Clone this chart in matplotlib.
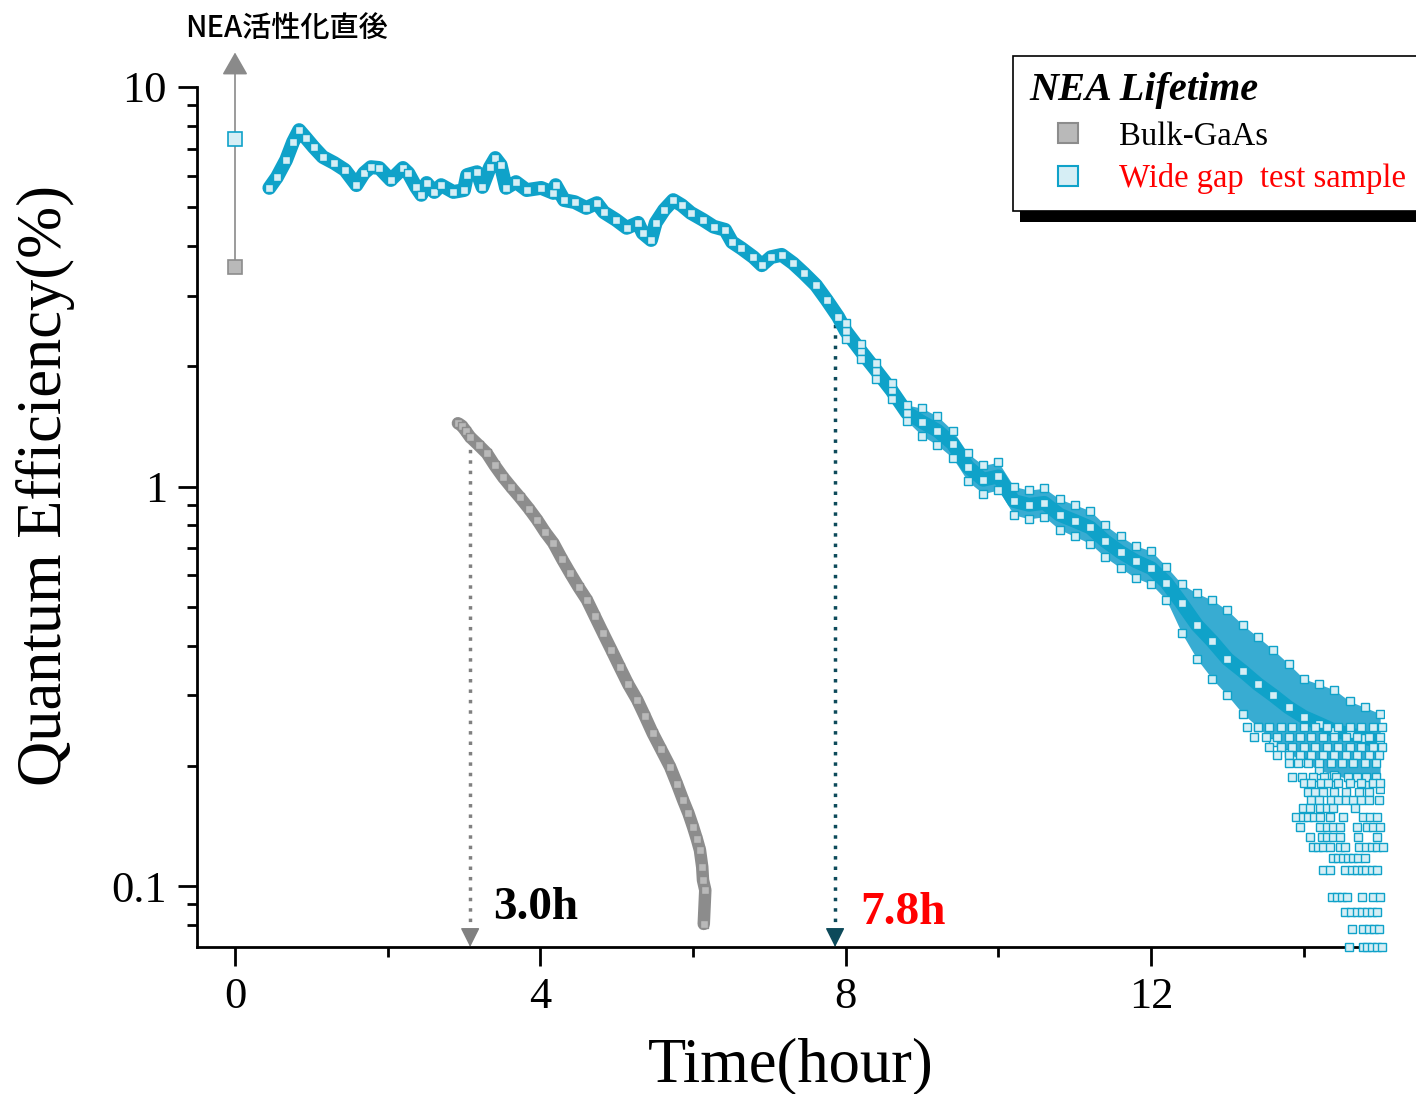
import matplotlib
matplotlib.use("Agg")
import matplotlib.pyplot as plt
from matplotlib.lines import Line2D
from matplotlib.patches import Rectangle
from matplotlib.transforms import IdentityTransform

plt.rcParams['font.family'] = ['Liberation Serif', 'DejaVu Serif']

# wide gap sample, main trace (hours, QE %)
wide_t = [0.45, 0.55, 0.67, 0.76, 0.84, 0.93, 1.03, 1.15, 1.30, 1.44, 1.59, 1.69, 1.78, 1.89,
          2.04, 2.20, 2.27, 2.37, 2.44, 2.51, 2.61, 2.70, 2.86, 3.00, 3.04, 3.17, 3.24, 3.34,
          3.41, 3.48, 3.55, 3.68, 3.82, 4.01, 4.17, 4.20, 4.31, 4.45, 4.60, 4.74, 4.83, 4.99,
          5.13, 5.28, 5.34, 5.45, 5.51, 5.62, 5.74, 5.85, 5.97, 6.13, 6.27, 6.42, 6.51, 6.63,
          6.79, 6.90, 7.02, 7.16, 7.31, 7.45, 7.61, 7.75, 7.90,
          8.0, 8.2, 8.4, 8.6, 8.8, 9.0, 9.2, 9.4, 9.6, 9.8, 10.0, 10.2, 10.4, 10.6, 10.8,
          11.0, 11.2, 11.4, 11.6, 11.8, 12.0, 12.2, 12.4, 12.6, 12.8, 13.0, 13.2, 13.4,
          13.6, 13.8, 14.0, 14.2, 14.4, 14.6, 14.8, 15.0]
wide_qe = [5.59, 5.95, 6.57, 7.28, 7.80, 7.45, 7.07, 6.68, 6.45, 6.20, 5.68, 6.09, 6.30, 6.27,
           5.85, 6.27, 6.09, 5.62, 5.37, 5.75, 5.46, 5.68, 5.46, 5.52, 6.02, 6.12, 5.62, 6.30,
           6.64, 6.38, 5.59, 5.78, 5.52, 5.59, 5.43, 5.68, 5.21, 5.15, 4.98, 5.12, 4.86, 4.65,
           4.44, 4.57, 4.31, 4.14, 4.57, 4.92, 5.21, 5.06, 4.84, 4.65, 4.47, 4.39, 4.09, 3.95,
           3.75, 3.58, 3.75, 3.80, 3.62, 3.42, 3.19, 2.93, 2.66,
           2.45, 2.18, 1.95, 1.74, 1.53, 1.45, 1.38, 1.28, 1.12, 1.04, 1.06, 0.92, 0.90, 0.91, 0.85,
           0.82, 0.79, 0.73, 0.685, 0.65, 0.625, 0.575, 0.51, 0.45, 0.41, 0.37, 0.345, 0.32,
           0.30, 0.28, 0.265, 0.255, 0.245, 0.24, 0.235, 0.23]

# upper / lower edges of the scattered band after 8 h
edge_t = [8.0, 8.2, 8.4, 8.6, 8.8, 9.0, 9.2, 9.4, 9.6, 9.8, 10.0, 10.2, 10.4, 10.6, 10.8,
          11.0, 11.2, 11.4, 11.6, 11.8, 12.0, 12.2, 12.4, 12.6, 12.8, 13.0, 13.2, 13.4,
          13.6, 13.8, 14.0, 14.2, 14.4, 14.6, 14.8, 15.0]
upper_qe = [2.56, 2.28, 2.04, 1.82, 1.60, 1.57, 1.50, 1.38, 1.21, 1.13, 1.15, 1.00, 0.98, 0.99, 0.93,
            0.90, 0.87, 0.80, 0.75, 0.71, 0.69, 0.63, 0.57, 0.54, 0.52, 0.49, 0.45, 0.42,
            0.39, 0.36, 0.33, 0.32, 0.31, 0.29, 0.28, 0.27]
lower_qe = [2.34, 2.08, 1.86, 1.66, 1.46, 1.34, 1.27, 1.18, 1.03, 0.96, 0.98, 0.85, 0.83, 0.84, 0.78,
            0.75, 0.72, 0.665, 0.625, 0.59, 0.57, 0.52, 0.43, 0.37, 0.33, 0.30, 0.27, 0.25,
            0.23, 0.215, 0.205, 0.195, 0.19, 0.185, 0.18, 0.175]

# low-signal tail: quantized rows of points
tail_levels = [0.250, 0.236, 0.223, 0.213, 0.203, 0.1875, 0.181, 0.172, 0.164, 0.1567,
               0.149, 0.1406, 0.1327, 0.1253, 0.1175, 0.1097, 0.0939, 0.0861, 0.0780, 0.0704]
tail_rows = [
    [13.25, 13.40, 13.55, 13.70, 13.85, 14.00, 14.15, 14.30, 14.45, 14.60, 14.75, 14.90, 15.02],
    [13.35, 13.50, 13.65, 13.80, 13.95, 14.10, 14.25, 14.40, 14.55, 14.70, 14.85, 15.00],
    [13.55, 13.70, 13.85, 14.00, 14.15, 14.30, 14.45, 14.60, 14.75, 14.90, 15.03],
    [13.65, 13.80, 13.95, 14.10, 14.25, 14.40, 14.55, 14.70, 14.85, 14.98],
    [13.80, 13.92, 14.05, 14.20, 14.35, 14.50, 14.65, 14.80, 14.95],
    [13.85, 13.98, 14.12, 14.26, 14.42, 14.58, 14.70, 14.82, 14.95],
    [14.00, 14.10, 14.22, 14.32, 14.45, 14.60, 14.75, 14.90, 15.00],
    [14.05, 14.15, 14.25, 14.40, 14.55, 14.72, 14.85],
    [14.10, 14.20, 14.35, 14.45, 14.55, 14.65, 14.75, 14.85, 14.98],
    [13.99, 14.08, 14.21, 14.30, 14.38, 14.67],
    [13.90, 13.99, 14.05, 14.13, 14.21, 14.34, 14.51, 14.77, 14.87, 14.96],
    [13.95, 14.21, 14.30, 14.38, 14.47, 14.70, 14.83, 14.91, 15.00],
    [14.08, 14.24, 14.30, 14.38, 14.47, 14.71, 14.96],
    [14.12, 14.18, 14.25, 14.34, 14.47, 14.54, 14.72, 14.81, 14.89, 14.96, 15.04],
    [14.38, 14.45, 14.51, 14.58, 14.64, 14.71, 14.80],
    [14.25, 14.34, 14.54, 14.63, 14.70, 14.76, 14.81, 14.89, 14.96],
    [14.37, 14.43, 14.50, 14.56, 14.76, 14.91, 15.00],
    [14.54, 14.62, 14.70, 14.76, 14.83, 14.89, 14.96],
    [14.63, 14.78, 14.85, 14.92, 14.98],
    [14.59, 14.77, 14.83, 14.89, 14.96, 15.02],
]

# bulk GaAs
bulk_t = [2.92, 2.97, 3.02, 3.08, 3.19, 3.30, 3.40, 3.51, 3.62, 3.73, 3.85, 3.96, 4.06, 4.17,
          4.28, 4.39, 4.50, 4.61, 4.71, 4.82, 4.93, 5.04, 5.15, 5.27, 5.37, 5.47, 5.58, 5.70,
          5.79, 5.87, 5.94, 6.00, 6.05, 6.09, 6.12, 6.13, 6.16, 6.14]
bulk_qe = [1.44, 1.42, 1.38, 1.33, 1.27, 1.21, 1.13, 1.056, 0.995, 0.94, 0.88, 0.824, 0.77, 0.722,
           0.66, 0.607, 0.56, 0.52, 0.475, 0.43, 0.39, 0.353, 0.32, 0.292, 0.266, 0.2415, 0.22,
           0.1986, 0.18, 0.164, 0.152, 0.1406, 0.131, 0.123, 0.1116, 0.1035, 0.0977, 0.0804]

# QE right after NEA activation (t = 0)
start_bulk = 3.54
start_wide = 7.41

# lifetimes
bulk_life = 3.08
bulk_life_qe = 1.33
wide_life = 7.86
wide_life_qe = 2.61

BLUE = '#0fa2c9'
BLUE_FACE = '#d6eef5'
BAND = '#38acd2'
GRAY = '#8c8c8c'
GRAY_FACE = '#b9b9b9'
YMIN, YMAX = 0.0704, 10

fig = plt.figure(figsize=(14.16, 10.94), dpi=100)
ax = fig.add_axes([0.139, 0.1344, 0.8384, 0.7861])
ax.set_yscale('log')
ax.set_xlim(-0.5, 15.05)
ax.set_ylim(YMIN, YMAX)

# bulk GaAs band
ax.plot(bulk_t, bulk_qe, '-', color=GRAY, lw=9, solid_capstyle='round', zorder=2)
ax.plot(bulk_t, bulk_qe, 's', ms=6, mfc=GRAY_FACE, mec=GRAY, mew=1, zorder=3)

# wide gap band
ax.fill_between(edge_t, lower_qe, upper_qe, color=BAND, lw=0, zorder=1.5)
ax.plot(wide_t, wide_qe, '-', color=BLUE, lw=10, solid_capstyle='round', zorder=2)
ax.plot(wide_t, wide_qe, 's', ms=5.5, mfc=BLUE_FACE, mec=BLUE, mew=1, zorder=3)
ax.plot(edge_t, upper_qe, 's', ms=5.5, mfc=BLUE_FACE, mec=BLUE, mew=1, zorder=3)
ax.plot(edge_t, lower_qe, 's', ms=5.5, mfc=BLUE_FACE, mec=BLUE, mew=1, zorder=3)
tail_t = [t for row in tail_rows for t in row]
tail_qe = [lv for lv, row in zip(tail_levels, tail_rows) for _ in row]
ax.plot(tail_t, tail_qe, 's', ms=5.5, mfc=BLUE_FACE, mec=BLUE, mew=1, zorder=3, clip_on=False)

# values right after activation + arrow
ax.annotate('', xy=(0, 12.2), xytext=(0, start_bulk), annotation_clip=False,
            arrowprops=dict(arrowstyle='-|>,head_length=0.7,head_width=0.4', mutation_scale=20,
                            color='#8a8a8a', lw=1.2, shrinkA=0, shrinkB=0), zorder=2)
ax.plot([0], [start_bulk], 's', ms=10, mfc=GRAY_FACE, mec=GRAY, mew=1.2, zorder=4)
ax.plot([0], [start_wide], 's', ms=10, mfc=BLUE_FACE, mec=BLUE, mew=1.2, zorder=4)
fig.text(287 / 1416, 1 - 28 / 1094, 'NEA活性化直後', family=['Noto Sans CJK JP', 'DejaVu Sans'],
         fontsize=21, fontweight='medium', ha='center', va='center')

# lifetime markers
for x, top, col in [(bulk_life, bulk_life_qe, '#808080'), (wide_life, wide_life_qe, '#0d4a5a')]:
    ax.plot([x, x], [YMIN * 1.09, top], color=col, lw=2.5, ls=(0, (1, 2)), zorder=1)
    ax.annotate('', xy=(x, YMIN), xytext=(x, YMIN * 1.09), annotation_clip=False,
                arrowprops=dict(arrowstyle='-|>,head_length=0.6,head_width=0.3', mutation_scale=20,
                                color=col, lw=1, shrinkA=0, shrinkB=0))
ax.text(3.38, 0.088, '3.0h', fontsize=34, fontweight='bold', color='black', va='center')
ax.text(8.19, 0.0856, '7.8h', fontsize=34, fontweight='bold', color='red', va='center')

# axes styling
for s in ['top', 'right']:
    ax.spines[s].set_visible(False)
for s in ['left', 'bottom']:
    ax.spines[s].set_linewidth(2)
ax.set_xticks([0, 4, 8, 12])
ax.set_xticks([2, 6, 10, 14], minor=True)
ax.set_yticks([0.1, 1, 10])
ax.set_yticklabels(['0.1', '1', '10'])
ax.tick_params(which='major', length=13.5, width=2, labelsize=32, pad=8)
ax.tick_params(which='minor', length=7, width=2)
ax.tick_params(axis='y', which='minor', labelleft=False)
ax.set_xlabel('Time(hour)', fontsize=45, labelpad=15)
ax.set_ylabel('Quantum Efficiency(%)', fontsize=45)
ax.yaxis.set_label_coords(-0.103, 0.537)

# legend with hard black shadow
handles = [Line2D([], [], ls='', marker='s', ms=14, mfc=GRAY_FACE, mec=GRAY, mew=1.5),
           Line2D([], [], ls='', marker='s', ms=14, mfc=BLUE_FACE, mec=BLUE, mew=1.5)]
leg = fig.legend(handles, ['Bulk-GaAs', 'Wide gap  test sample'], title='NEA Lifetime',
                 loc='upper left', bbox_to_anchor=(1013 / 1416, 1 - 56 / 1094),
                 prop=dict(size=23.5), alignment='left', borderaxespad=0,
                 title_fontproperties=dict(size=29, weight='bold', style='italic'),
                 frameon=True, fancybox=False, framealpha=1, edgecolor='black',
                 handlelength=2.4, handletextpad=0.35, borderpad=0.5, labelspacing=0.36)
leg.get_frame().set_linewidth(1.2)
leg.get_texts()[1].set_color('red')
leg.set_zorder(5)

fig.canvas.draw()
bb = leg.get_window_extent()
fig.add_artist(Rectangle((bb.x0 + 7, bb.y0 - 11), bb.width, bb.height, transform=IdentityTransform(),
                         facecolor='black', edgecolor='none', zorder=4))

fig.savefig('out.png', dpi=100)
